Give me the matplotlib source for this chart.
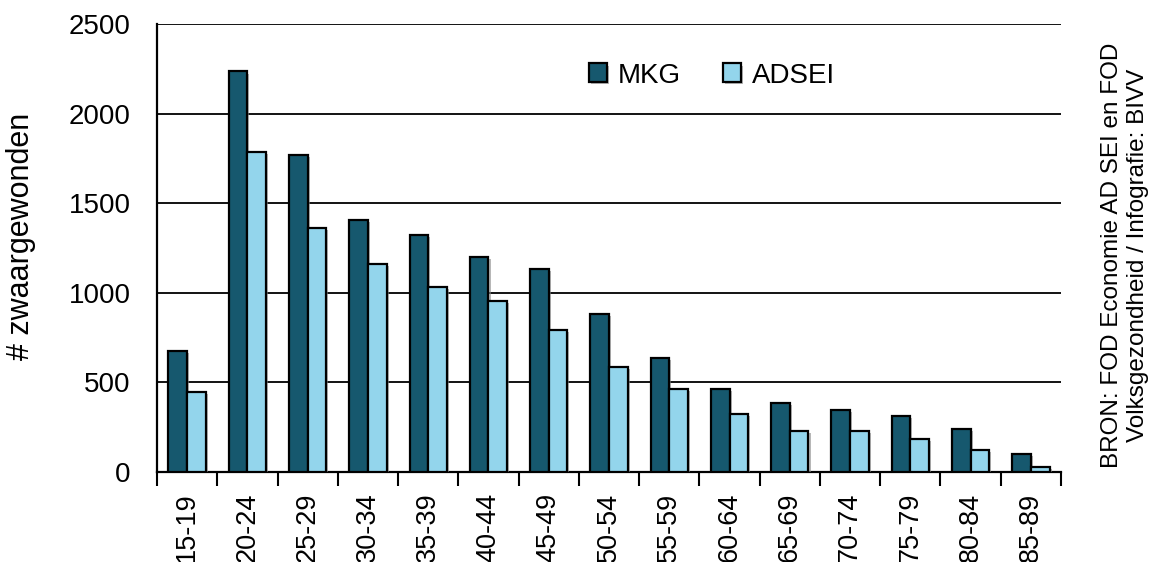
import matplotlib
matplotlib.use("Agg")
import matplotlib.pyplot as plt
import matplotlib.patheffects as pe
import numpy as np

plt.rcParams['font.family'] = ['Liberation Sans', 'DejaVu Sans']

categories = ["15-19", "20-24", "25-29", "30-34", "35-39", "40-44", "45-49",
              "50-54", "55-59", "60-64", "65-69", "70-74", "75-79", "80-84", "85-89"]
mkg = [678, 2235, 1770, 1408, 1325, 1198, 1135, 884, 638, 463, 387, 346, 313, 240, 100]
adsei = [448, 1788, 1364, 1163, 1035, 955, 794, 585, 461, 322, 228, 228, 184, 122, 28]
series_names = ["MKG", "ADSEI"]
colors = ["#16586E", "#93D5EC"]
yticks = [0, 500, 1000, 1500, 2000, 2500]

fig = plt.figure(figsize=(11.57, 5.62), dpi=100)
ax = fig.add_axes([157/1157, 90/562, 904/1157, 448/562])

x = np.arange(len(categories))
w = 0.31
shadow = [pe.SimplePatchShadow(offset=(1.5, -1.5), shadow_rgbFace='#888888', alpha=0.6), pe.Normal()]
ax.bar(x - w/2, mkg, w, color=colors[0], edgecolor='black', linewidth=1.6,
       label=series_names[0], zorder=3, path_effects=shadow)
ax.bar(x + w/2, adsei, w, color=colors[1], edgecolor='black', linewidth=1.6,
       label=series_names[1], zorder=3, path_effects=shadow)

ax.set_xlim(-0.5, len(categories) - 0.5)
ax.set_ylim(0, 2500)
ax.set_yticks(yticks)
ax.set_yticklabels([str(v) for v in yticks], fontsize=20)
ax.yaxis.grid(True, color='black', linewidth=1.3, zorder=0)
ax.set_axisbelow(True)
ax.tick_params(axis='y', length=0, pad=19)

ax.set_xticks(x)
ax.set_xticklabels(categories, rotation=90, fontsize=19.5)
ax.tick_params(axis='x', length=0, pad=15)
ax.set_xticks(np.arange(len(categories) + 1) - 0.5, minor=True)
ax.tick_params(axis='x', which='minor', length=10, width=1.5, direction='out')

for s in ['top', 'right']:
    ax.spines[s].set_visible(False)
for s in ['left', 'bottom']:
    ax.spines[s].set_linewidth(1.6)

ax.set_ylabel("# zwaargewonden", fontsize=22)
ax.yaxis.set_label_coords(-0.134, 0.525)

ax.legend(loc='center left', bbox_to_anchor=(0.45, 0.885), ncol=2, frameon=False,
          fontsize=20, handlelength=0.65, handleheight=0.65, handletextpad=0.4,
          columnspacing=1.5)

fig.text(1125/1157, 1 - 255/562, "BRON: FOD Economie AD SEI en FOD\nVolksgezondheid / Infografie: BIVV",
         rotation=90, ha='center', va='center', fontsize=17.5, multialignment='center',
         linespacing=1.2)

fig.savefig("out.png", dpi=100)
